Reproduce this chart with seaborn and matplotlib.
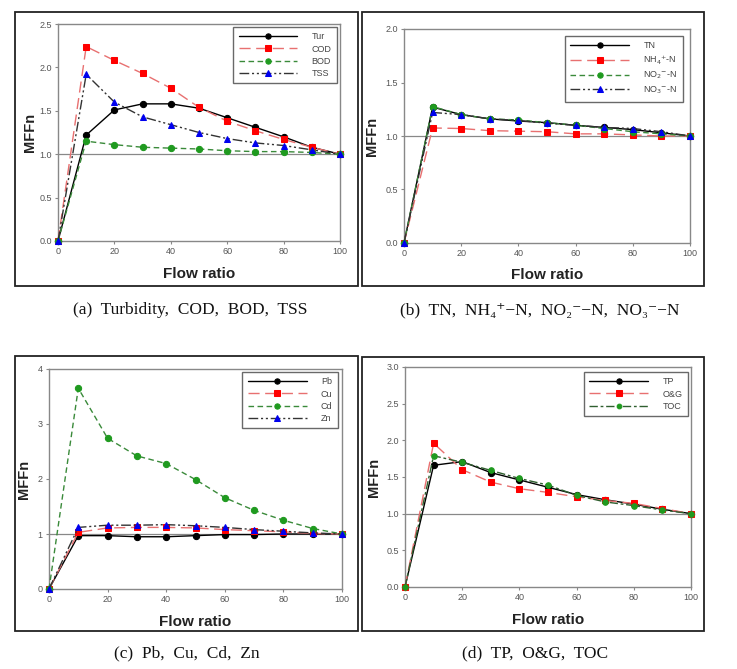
import matplotlib
matplotlib.use("Agg")
import matplotlib.pyplot as plt
import seaborn as sns
import numpy as np
from matplotlib.patches import Rectangle

sns.set_theme(style="white")
plt.rcParams['font.family'] = ['Liberation Sans', 'DejaVu Sans']

flow_ratio = [0, 10, 20, 30, 40, 50, 60, 70, 80, 90, 100]

# (a)
tur = [0, 1.22, 1.51, 1.58, 1.58, 1.53, 1.42, 1.31, 1.20, 1.08, 1.0]
cod = [0, 2.24, 2.08, 1.93, 1.76, 1.54, 1.38, 1.27, 1.17, 1.08, 1.0]
bod = [0, 1.15, 1.11, 1.08, 1.07, 1.06, 1.04, 1.03, 1.03, 1.02, 1.0]
tss = [0, 1.92, 1.60, 1.43, 1.34, 1.25, 1.18, 1.13, 1.10, 1.05, 1.0]
# (b)
tn = [0, 1.27, 1.20, 1.16, 1.14, 1.125, 1.10, 1.08, 1.06, 1.03, 1.0]
nh4 = [0, 1.075, 1.07, 1.05, 1.045, 1.04, 1.02, 1.02, 1.01, 1.00, 1.0]
no2 = [0, 1.275, 1.20, 1.16, 1.15, 1.125, 1.10, 1.07, 1.04, 1.02, 1.0]
no3 = [0, 1.22, 1.20, 1.16, 1.145, 1.12, 1.10, 1.08, 1.07, 1.04, 1.0]
# (c)
pb = [0, 0.97, 0.97, 0.95, 0.95, 0.97, 0.99, 0.99, 1.0, 1.0, 1.0]
cu = [0, 1.03, 1.11, 1.12, 1.12, 1.11, 1.08, 1.06, 1.04, 1.01, 1.0]
cd = [0, 3.65, 2.74, 2.42, 2.28, 1.99, 1.66, 1.43, 1.25, 1.10, 1.0]
zn = [0, 1.12, 1.16, 1.16, 1.17, 1.15, 1.12, 1.08, 1.05, 1.02, 1.0]
# (d)
tp = [0, 1.66, 1.71, 1.56, 1.46, 1.36, 1.26, 1.19, 1.13, 1.06, 1.0]
og = [0, 1.96, 1.60, 1.43, 1.34, 1.29, 1.23, 1.18, 1.14, 1.07, 1.0]
toc = [0, 1.79, 1.70, 1.59, 1.48, 1.39, 1.25, 1.16, 1.11, 1.05, 1.0]

labels_a = ["Tur", "COD", "BOD", "TSS"]
labels_b = ["TN", "NH$_4$$^{+}$-N", "NO$_2$$^{-}$-N", "NO$_3$$^{-}$-N"]
labels_c = ["Pb", "Cu", "Cd", "Zn"]
labels_d = ["TP", "O&G", "TOC"]

captions = ["(a)  Turbidity,  COD,  BOD,  TSS",
            "(b)  TN,  NH\u2084\u207a\u2212N,  NO\u2082\u207b\u2212N,  NO\u2083\u207b\u2212N",
            "(c)  Pb,  Cu,  Cd,  Zn",
            "(d)  TP,  O&G,  TOC"]

styles = [
    dict(color="black", marker="o", linestyle="-", mfc="black", mec="black"),
    dict(color="#e87070", marker="s", linestyle=(0, (8, 4)), mfc="#ff0000", mec="#ff0000"),
    dict(color="#3a8a3a", marker="o", linestyle=(0, (4, 2.5)), mfc="#1f9a1f", mec="#1f9a1f"),
    dict(color="#333333", marker="^", linestyle=(0, (7, 2, 1.5, 2, 1.5, 2)), mfc="#0000ee", mec="#0000ee"),
]
styles_d = [styles[0], styles[1],
            dict(color="#2f5f2f", marker="o", linestyle=(0, (6, 2, 2, 2)), mfc="#1f9a1f", mec="#1f9a1f")]

fig = plt.figure(figsize=(7.37, 6.69), dpi=100)
W, H = 737, 669

def ax_rect(l, r, t, b):
    return [l / W, 1 - b / H, (r - l) / W, (b - t) / H]

panels = [
    dict(rect=ax_rect(58, 340, 24, 241), series=[tur, cod, bod, tss], labels=labels_a, st=styles,
         ymax=2.5, yticks=np.arange(0, 2.51, 0.5), fmt="{:.1f}", frame=(15, 358, 12, 286),
         leg=(337, 27), ms=[4.5, 5, 4.5, 4.5], cap=(190, 310), ylab_x=30, xlab_y=274),
    dict(rect=ax_rect(404, 690, 29, 243), series=[tn, nh4, no2, no3], labels=labels_b, st=styles,
         ymax=2.0, yticks=np.arange(0, 2.01, 0.5), fmt="{:.1f}", frame=(362, 704, 12, 286),
         leg=(683, 36), ms=[4.5, 5, 4.5, 4.5], cap=(540, 310), ylab_x=372, xlab_y=275),
    dict(rect=ax_rect(49, 342, 369, 589), series=[pb, cu, cd, zn], labels=labels_c, st=styles,
         ymax=4, yticks=np.arange(0, 4.1, 1), fmt="{:.0f}", frame=(15, 358, 356, 631),
         leg=(338, 372), ms=[4.5, 5, 4.5, 4.5], cap=(187, 653), ylab_x=24, xlab_y=622),
    dict(rect=ax_rect(405, 691, 367, 587), series=[tp, og, toc], labels=labels_d, st=styles_d,
         ymax=3.0, yticks=np.arange(0, 3.01, 0.5), fmt="{:.1f}", frame=(362, 704, 357, 631),
         leg=(688, 372), ms=[4.5, 5, 4], cap=(535, 653), ylab_x=374, xlab_y=620),
]

for p in panels:
    ax = fig.add_axes(p["rect"])
    ax.axhline(1.0, color="#888888", lw=0.9, zorder=1)
    for vals, lab, st, ms in zip(p["series"], p["labels"], p["st"], p["ms"]):
        sns.lineplot(x=flow_ratio, y=vals, ax=ax, color=st["color"], marker=st["marker"],
                     linestyle=st["linestyle"], markerfacecolor=st["mfc"], markeredgecolor=st["mec"],
                     markersize=ms, lw=1.0, label=lab, clip_on=False, zorder=3)
    ax.set_xlim(0, 100)
    ax.set_ylim(0, p["ymax"])
    ax.set_xticks([0, 20, 40, 60, 80, 100])
    ax.set_yticks(p["yticks"])
    ax.set_yticklabels([p["fmt"].format(v) for v in p["yticks"]])
    ax.tick_params(axis="both", labelsize=6.5, labelcolor="#555555", colors="#888888",
                   length=2.5, width=0.8, direction="out", bottom=True, left=True, pad=2)
    for sp in ax.spines.values():
        sp.set_color("#888888")
        sp.set_linewidth(1.0)
    ax.set_xlabel("")
    ax.set_ylabel("")
    ymid = p["rect"][1] + p["rect"][3] / 2
    fig.text(p["ylab_x"] / W, ymid, "MFFn", rotation=90, fontsize=10.5, fontweight="bold",
             ha="center", va="center", color="#222222")
    xmid = p["rect"][0] + p["rect"][2] / 2
    fig.text(xmid, 1 - p["xlab_y"] / H, "Flow ratio", fontsize=11, fontweight="bold",
             ha="center", va="center", color="#222222")
    lx, ly = p["leg"]
    leg = ax.legend(loc="upper right", bbox_to_anchor=(lx / W, 1 - ly / H),
                    bbox_transform=fig.transFigure, fontsize=6.5, frameon=True, fancybox=False,
                    edgecolor="#444444", handlelength=6.5, labelspacing=0.35, borderpad=0.6,
                    handletextpad=1.6, borderaxespad=0, markerscale=0.85)
    leg.get_frame().set_linewidth(1.0)
    for t in leg.get_texts():
        t.set_color("#444444")
    fl, fr, ft, fb = p["frame"]
    fig.patches.append(Rectangle((fl / W, 1 - fb / H), (fr - fl) / W, (fb - ft) / H,
                                 transform=fig.transFigure, fill=False, edgecolor="#222222",
                                 linewidth=1.3))

caption_pos = [p["cap"] for p in panels]
for (cx, cy), txt in zip(caption_pos, captions):
    fig.text(cx / W, 1 - cy / H, txt, fontsize=12.5, ha="center", va="center",
             family=["Liberation Serif", "DejaVu Serif"], color="#111111")

fig.savefig("out.png", dpi=100, facecolor="white")
